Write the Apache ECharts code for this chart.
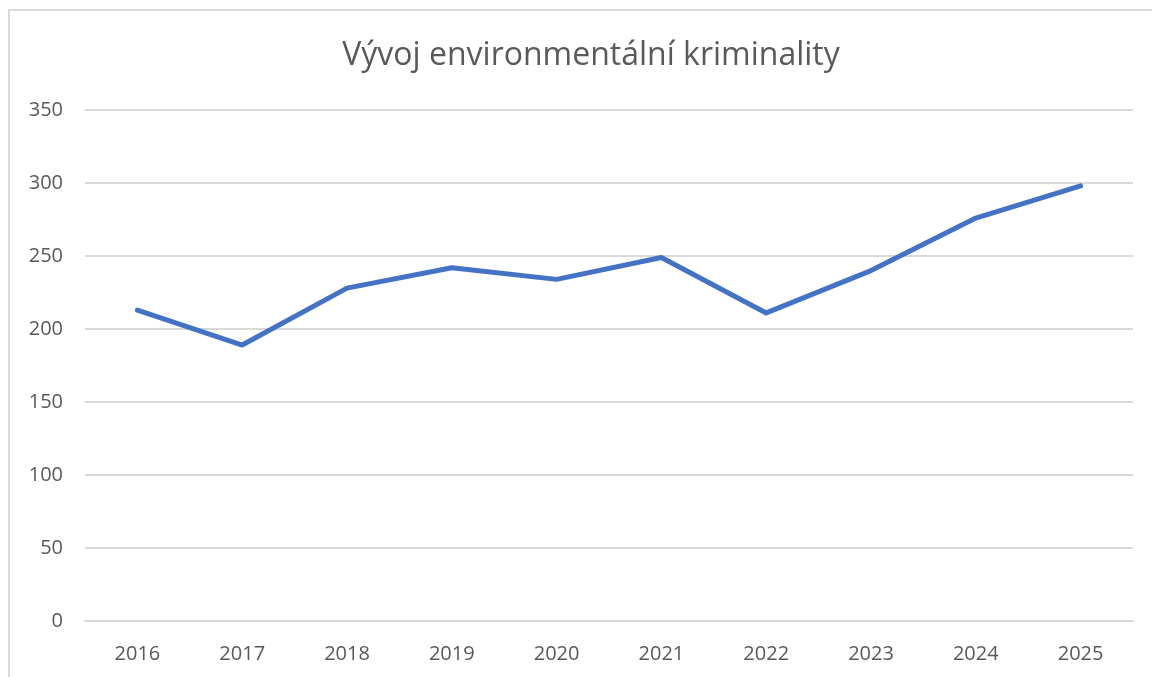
<!DOCTYPE html>
<html>
<head>
<meta charset="utf-8">
<script src="https://cdn.jsdelivr.net/npm/echarts@6/dist/echarts.min.js"></script>
<style>html,body{margin:0;padding:0;background:#fff}#c{width:1152px;height:677px}</style>
</head>
<body>
<div id="c"></div>
<script>
var titleText = 'Vývoj environmentální kriminality';
var categories = ['2016','2017','2018','2019','2020','2021','2022','2023','2024','2025'];
var values = [213, 189, 228, 242, 234, 249, 211, 240, 276, 298];
var yMin = 0, yMax = 350, yStep = 50;

var chart = echarts.init(document.getElementById('c'), null, {renderer: 'canvas'});
chart.setOption({
  animation: false,
  backgroundColor: '#ffffff',
  graphic: [{
    type: 'rect',
    shape: {x: 9, y: 10, width: 1200, height: 700},
    style: {fill: 'none', stroke: '#d9d9d9', lineWidth: 2},
    silent: true
  }],
  title: {
    text: titleText,
    left: 586,
    textAlign: 'center',
    top: 35,
    textStyle: {fontFamily: 'Open Sans', fontSize: 32, fontWeight: 'normal', color: '#595959'}
  },
  grid: {left: 85, right: 19, top: 110, bottom: 56, containLabel: false},
  xAxis: {
    type: 'category',
    data: categories,
    boundaryGap: true,
    axisLine: {show: true, lineStyle: {color: '#d9d9d9', width: 2}},
    axisTick: {show: false},
    axisLabel: {color: '#595959', fontFamily: 'Open Sans', fontSize: 20, margin: 23}
  },
  yAxis: {
    type: 'value',
    min: yMin, max: yMax, interval: yStep,
    axisLine: {show: false},
    axisTick: {show: false},
    splitLine: {lineStyle: {color: '#d9d9d9', width: 2}},
    axisLabel: {color: '#595959', fontFamily: 'Open Sans', fontSize: 20, margin: 22}
  },
  series: [{
    type: 'line',
    data: values,
    symbol: 'none',
    lineStyle: {color: '#4472c4', width: 5, cap: 'round', join: 'round'},
    itemStyle: {color: '#4472c4'}
  }]
});
</script>
</body>
</html>
